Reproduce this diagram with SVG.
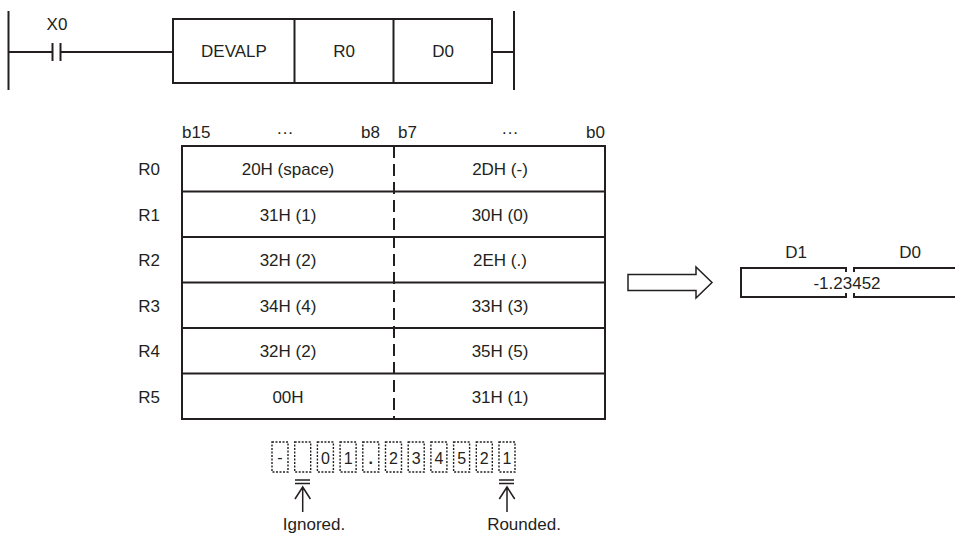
<svg xmlns="http://www.w3.org/2000/svg" width="955" height="535" viewBox="0 0 955 535">
<style>
text{font-family:"Liberation Sans",Arial,sans-serif;font-size:17px;fill:#231f20}
.m{text-anchor:middle}
.e{text-anchor:end}
.ln{stroke:#231f20;stroke-width:2;fill:none}
.th{stroke:#231f20;stroke-width:1.5;fill:none}
.dot{stroke:#231f20;stroke-width:1.4;fill:none;stroke-dasharray:2 1.5}
.c{font-size:16px}
</style>
<rect width="955" height="535" fill="#fff"/>
<g id="ladder">
  <line class="ln" x1="8.5" y1="11" x2="8.5" y2="90"/>
  <line class="ln" x1="8.5" y1="52" x2="52.5" y2="52"/>
  <line class="ln" x1="52.5" y1="43" x2="52.5" y2="61"/>
  <line class="ln" x1="60.5" y1="43" x2="60.5" y2="61"/>
  <line class="ln" x1="60.5" y1="52" x2="173" y2="52"/>
  <text class="m" x="57" y="30">X0</text>
  <rect class="ln" x="173" y="19" width="319" height="64"/>
  <line class="ln" x1="294.5" y1="19" x2="294.5" y2="83"/>
  <line class="ln" x1="393.5" y1="19" x2="393.5" y2="83"/>
  <text class="m" x="234" y="57">DEVALP</text>
  <text class="m" x="344" y="57">R0</text>
  <text class="m" x="443" y="57">D0</text>
  <line class="ln" x1="492" y1="52" x2="514" y2="52"/>
  <line class="ln" x1="514" y1="11" x2="514" y2="90"/>
</g>
<g id="table">
  <text x="182" y="138">b15</text>
  <text class="m" x="285" y="138">···</text>
  <text class="e" x="380" y="138">b8</text>
  <text x="398" y="138">b7</text>
  <text class="m" x="510" y="138">···</text>
  <text class="e" x="605" y="138">b0</text>
  <rect class="ln" x="182" y="146" width="423" height="273"/>
  <line class="ln" x1="182" y1="191.5" x2="605" y2="191.5"/>
  <line class="ln" x1="182" y1="237" x2="605" y2="237"/>
  <line class="ln" x1="182" y1="282.5" x2="605" y2="282.5"/>
  <line class="ln" x1="182" y1="328" x2="605" y2="328"/>
  <line class="ln" x1="182" y1="373.5" x2="605" y2="373.5"/>
  <line class="ln" x1="394" y1="146" x2="394" y2="419" stroke-dasharray="12 6"/>
  <text class="e" x="160" y="175">R0</text>
  <text class="e" x="160" y="220.5">R1</text>
  <text class="e" x="160" y="266">R2</text>
  <text class="e" x="160" y="311.5">R3</text>
  <text class="e" x="160" y="357">R4</text>
  <text class="e" x="160" y="402.5">R5</text>
  <text class="m" x="288" y="175">20H (space)</text>
  <text class="m" x="500" y="175">2DH (-)</text>
  <text class="m" x="288" y="220.5">31H (1)</text>
  <text class="m" x="500" y="220.5">30H (0)</text>
  <text class="m" x="288" y="266">32H (2)</text>
  <text class="m" x="500" y="266">2EH (.)</text>
  <text class="m" x="288" y="311.5">34H (4)</text>
  <text class="m" x="500" y="311.5">33H (3)</text>
  <text class="m" x="288" y="357">32H (2)</text>
  <text class="m" x="500" y="357">35H (5)</text>
  <text class="m" x="288" y="402.5">00H</text>
  <text class="m" x="500" y="402.5">31H (1)</text>
</g>
<g id="connectors">
  <path class="th" d="M628,274.5 H696 V267 L712,282.5 L696,298 V290.5 H628 Z"/>
</g>
<g id="result">
  <path class="ln" d="M846,272 V268 H741 V297 H846 V293"/>
  <path class="ln" d="M956,268 H854 V272 M854,293 V297 H956"/>
  <text class="m" x="796" y="258">D1</text>
  <text class="m" x="910" y="258">D0</text>
  <text class="m" x="847" y="289">-1.23452</text>
</g>
<g id="chars">
  <rect class="dot" x="272" y="442" width="16" height="30"/>
  <rect class="dot" x="294.7" y="442" width="16" height="30"/>
  <rect class="dot" x="317.4" y="442" width="16" height="30"/>
  <rect class="dot" x="340.1" y="442" width="16" height="30"/>
  <rect class="dot" x="362.8" y="442" width="16" height="30"/>
  <rect class="dot" x="385.5" y="442" width="16" height="30"/>
  <rect class="dot" x="408.2" y="442" width="16" height="30"/>
  <rect class="dot" x="430.9" y="442" width="16" height="30"/>
  <rect class="dot" x="453.6" y="442" width="16" height="30"/>
  <rect class="dot" x="476.3" y="442" width="16" height="30"/>
  <rect class="dot" x="499" y="442" width="16" height="30"/>
  <text class="m c" x="280" y="463">-</text>
  <text class="m c" x="325.4" y="464">0</text>
  <text class="m c" x="348.1" y="464">1</text>
  <text class="m c" x="370.8" y="464" font-weight="bold">.</text>
  <text class="m c" x="393.5" y="464">2</text>
  <text class="m c" x="416.2" y="464">3</text>
  <text class="m c" x="438.9" y="464">4</text>
  <text class="m c" x="461.6" y="464">5</text>
  <text class="m c" x="484.3" y="464">2</text>
  <text class="m c" x="507" y="464">1</text>
</g>
<g id="notes">
  <path class="th" d="M295,480 H310 M295,483.5 H310 M302.7,512 V487 M295,499 L302.7,487 L310.4,499"/>
  <path class="th" d="M499,480 H514 M499,483.5 H514 M507,512 V487 M499.3,499 L507,487 L514.7,499"/>
  <text class="m" x="314" y="530">Ignored.</text>
  <text class="m" x="524" y="530">Rounded.</text>
</g>
</svg>
